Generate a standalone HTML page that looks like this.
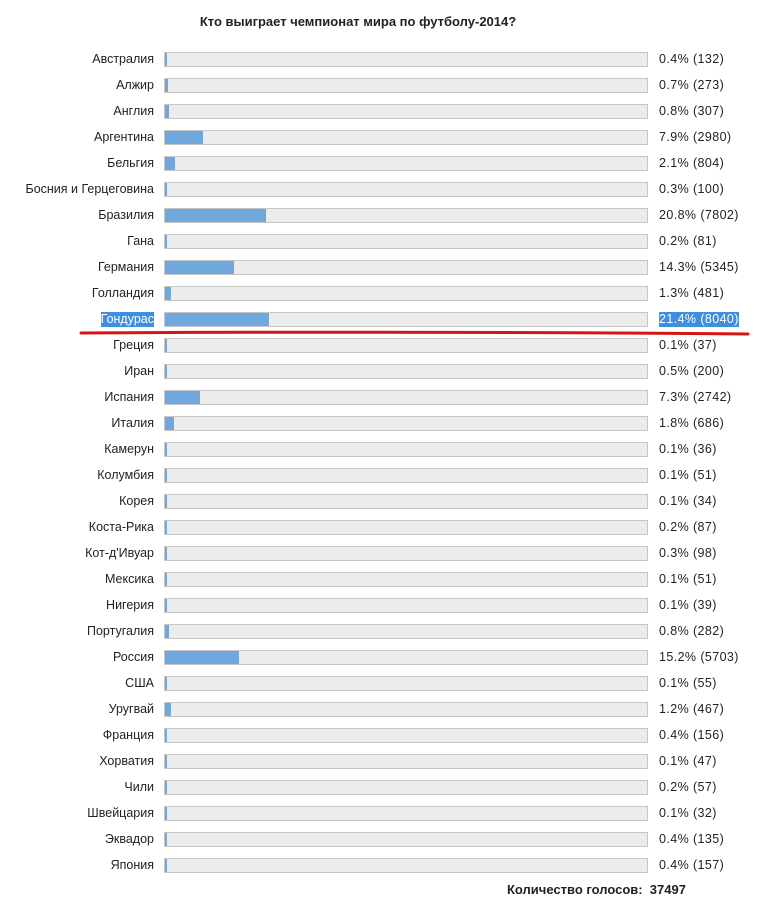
<!DOCTYPE html>
<html><head><meta charset="utf-8"><style>
body{margin:0;width:759px;height:903px;background:#fff;font-family:"Liberation Sans",sans-serif;font-size:12.5px;color:#222;position:relative;overflow:hidden}
.t{position:absolute;left:0;width:716px;text-align:center;top:14px;font-weight:bold;font-size:13px}
.l{position:absolute;right:605px;white-space:nowrap;line-height:15px}
.tr{position:absolute;left:164px;width:482px;height:13px;background:#ececec;border:1px solid #c6c6c6}
.f{position:absolute;left:0;top:0;height:13px;background:#6fa8dc}
.v{position:absolute;left:659px;white-space:nowrap;line-height:15px;letter-spacing:0.4px}
.hl{background:#3d8fe0;color:#fff}
.b{position:absolute;top:882px;left:507px;font-weight:bold;font-size:13px}
</style></head><body>
<div class="t">Кто выиграет чемпионат мира по футболу-2014?</div>
<div id="c"></div>
<svg style="position:absolute;left:0;top:0" width="759" height="903"><path d="M81 333 Q400 331 748 334" stroke="#d41515" stroke-width="3" fill="none" stroke-linecap="round"/></svg>
<div class="b">Количество голосов:&nbsp; 37497</div>
<script>
var d=[["Австралия",0.4,132],["Алжир",0.7,273],["Англия",0.8,307],["Аргентина",7.9,2980],["Бельгия",2.1,804],["Босния и Герцеговина",0.3,100],["Бразилия",20.8,7802],["Гана",0.2,81],["Германия",14.3,5345],["Голландия",1.3,481],["Гондурас",21.4,8040],["Греция",0.1,37],["Иран",0.5,200],["Испания",7.3,2742],["Италия",1.8,686],["Камерун",0.1,36],["Колумбия",0.1,51],["Корея",0.1,34],["Коста-Рика",0.2,87],["Кот-д'Ивуар",0.3,98],["Мексика",0.1,51],["Нигерия",0.1,39],["Португалия",0.8,282],["Россия",15.2,5703],["США",0.1,55],["Уругвай",1.2,467],["Франция",0.4,156],["Хорватия",0.1,47],["Чили",0.2,57],["Швейцария",0.1,32],["Эквадор",0.4,135],["Япония",0.4,157]];
var h="";
d.forEach(function(r,i){var y=59+i*26;var hl=i==10?' hl':'';
h+='<div class="l'+hl+'" style="top:'+(y-7)+'px">'+r[0]+'</div>';
h+='<div class="tr" style="top:'+(y-7)+'px"><div class="f" style="width:'+Math.max(2,Math.round(r[1]*4.84))+'px"></div></div>';
h+='<div class="v'+hl+'" style="top:'+(y-7)+'px">'+r[1].toFixed(1)+'% ('+r[2]+')</div>';});
document.getElementById("c").innerHTML=h;
</script>
</body></html>
